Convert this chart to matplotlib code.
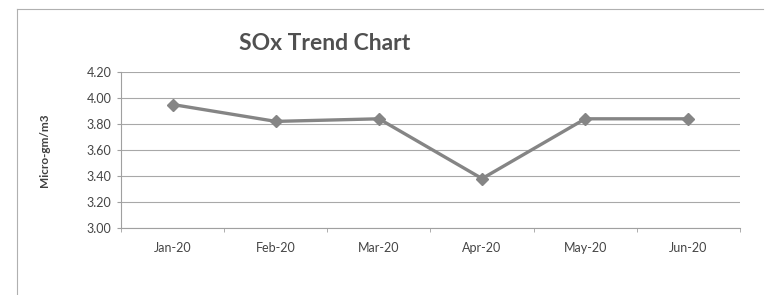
import matplotlib.pyplot as plt
import numpy as np
from matplotlib.lines import Line2D

plt.rcParams.update({
    'font.family': ['Lato', 'DejaVu Sans'],
    'font.size': 8,
})

months = ['Jan-20', 'Feb-20', 'Mar-20', 'Apr-20', 'May-20', 'Jun-20']
sox = [3.95, 3.82, 3.84, 3.38, 3.84, 3.84]
yticks = [3.00, 3.20, 3.40, 3.60, 3.80, 4.00, 4.20]

fig = plt.figure(figsize=(7.75, 2.95), dpi=100)
ax = fig.add_axes([121/775, 1 - 228/295, (740-121)/775, (228-72)/295])

# outer chart frame (top and left edges show in the scan)
frame = dict(transform=fig.transFigure, color='#b0b0b0', linewidth=0.8)
fig.lines.append(Line2D([17/775, 763/775], [1 - 9/295, 1 - 9/295], **frame))
fig.lines.append(Line2D([17/775, 17/775], [0, 1 - 9/295], **frame))

x = np.arange(len(months))
ax.plot(x, sox, color='#858585', linewidth=2.4, marker='D',
        markersize=6, markerfacecolor='#858585', markeredgecolor='#858585')

ax.set_xlim(-0.5, len(months) - 0.5)
ax.set_ylim(3.0, 4.2)
ax.set_yticks(yticks)
ax.set_yticklabels([f'{v:.2f}' for v in yticks], color='#454545', fontsize=9)
ax.set_xticks(x)
ax.set_xticklabels(months, color='#454545', fontsize=9)
ax.set_xticks(np.arange(len(months) + 1) - 0.5, minor=True)
ax.tick_params(axis='x', which='major', length=0, pad=10)
ax.tick_params(axis='x', which='minor', length=3, color='#a0a0a0', direction='out')
ax.tick_params(axis='y', length=3, color='#a0a0a0', pad=4)

ax.grid(axis='y', color='#a8a8a8', linewidth=0.8)
ax.set_axisbelow(True)
for s in ['top', 'right']:
    ax.spines[s].set_visible(False)
for s in ['left', 'bottom']:
    ax.spines[s].set_color('#a0a0a0')
    ax.spines[s].set_linewidth(0.8)

ax.set_ylabel('Micro-gm/m3', fontsize=8.5, fontweight='bold', color='#404040', labelpad=26)
fig.text(325/775, 1 - 44/295, 'SOx Trend Chart', ha='center', va='center',
         fontsize=16.5, fontweight='bold', color='#505050')

fig.savefig('out.png', dpi=100)
